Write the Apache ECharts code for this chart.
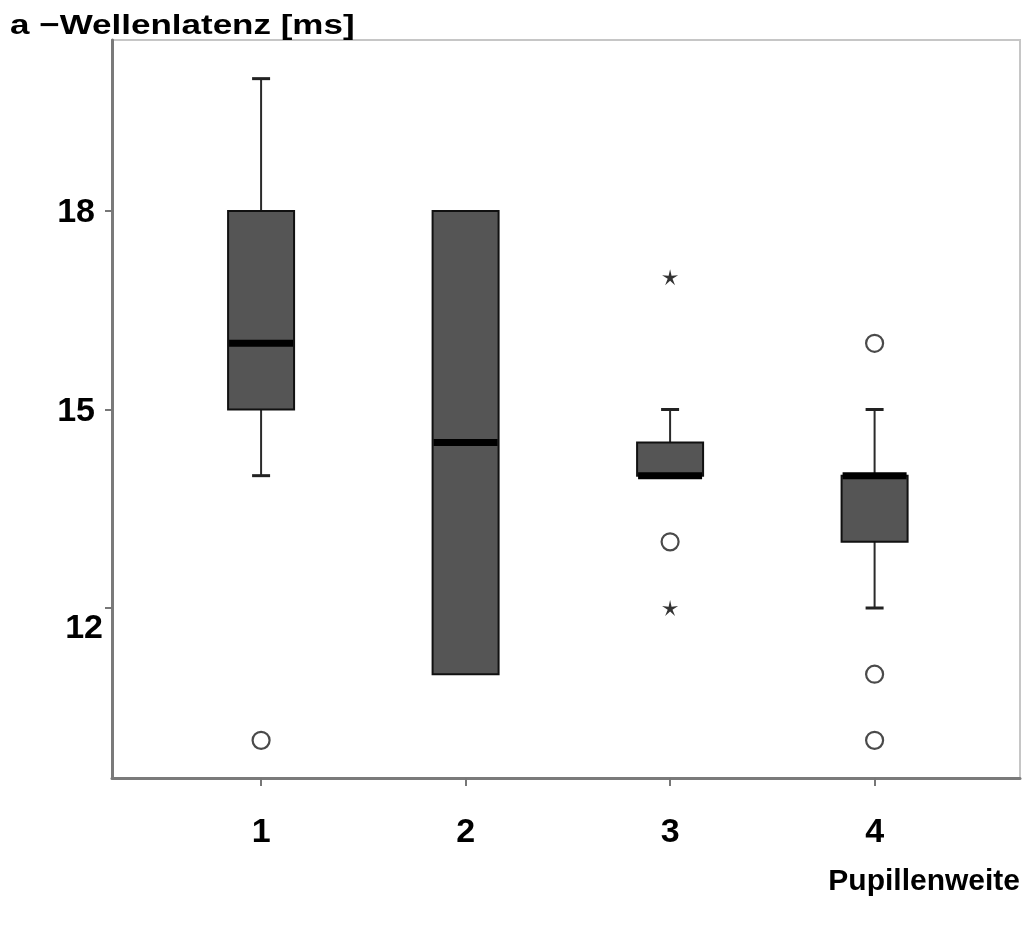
<!DOCTYPE html>
<html>
<head>
<meta charset="utf-8">
<script src="https://cdn.jsdelivr.net/npm/echarts@6/dist/echarts.min.js"></script>
<style>
  html, body { margin: 0; padding: 0; background: #fff; }
  #chart { width: 1030px; height: 925px; }
</style>
</head>
<body>
<div id="chart"></div>
<script>
// Pupil-width groups and the box statistics of the a-wave latency (ms)
const categories   = [1, 2, 3, 4];
const whiskerLow   = [14, 11, 14, 12];
const quartile1    = [15, 11, 14, 13];
const medians      = [16, 14.5, 14, 14];
const quartile3    = [18, 18, 14.5, 14];
const whiskerHigh  = [20, 18, 15, 15];

// Outliers (circles) and extreme values (stars): [group, latency]
const outlierPoints = [[1, 10], [3, 13], [4, 16], [4, 11], [4, 10]];
const extremePoints = [[3, 17], [3, 12]];

const yTicks = [12, 15, 18];

const boxRows = categories.map((c, i) =>
  [c, whiskerLow[i], quartile1[i], medians[i], quartile3[i], whiskerHigh[i]]);

const FONT = "'Liberation Sans', Arial, Helvetica, sans-serif";
const BOX_W = 66;
const CAP_W = 18;

// thin five-pointed star used for extreme values
function starPath() {
  let d = '';
  for (let k = 0; k < 10; k++) {
    const r = k % 2 === 0 ? 10 : 3;
    const a = -Math.PI / 2 + k * Math.PI / 5;
    const px = (10 + r * Math.cos(a)).toFixed(2);
    const py = (10 + r * Math.sin(a)).toFixed(2);
    d += (k === 0 ? 'M' : 'L') + px + ' ' + py + ' ';
  }
  return 'path://' + d + 'Z';
}

function renderBox(params, api) {
  const x = api.value(0);
  const pLow = api.coord([x, api.value(1)]);
  const pQ1 = api.coord([x, api.value(2)]);
  const pMed = api.coord([x, api.value(3)]);
  const pQ3 = api.coord([x, api.value(4)]);
  const pHigh = api.coord([x, api.value(5)]);
  const cx = pQ1[0];
  const half = BOX_W / 2;
  const cap = CAP_W / 2;
  const whisker = { stroke: '#2a2a2a', lineWidth: 2 };
  const children = [];
  if (pHigh[1] < pQ3[1]) {
    children.push({ type: 'line', shape: { x1: cx, y1: pQ3[1], x2: cx, y2: pHigh[1] }, style: whisker });
    children.push({ type: 'line', shape: { x1: cx - cap, y1: pHigh[1], x2: cx + cap, y2: pHigh[1] }, style: { stroke: '#222', lineWidth: 3 } });
  }
  if (pLow[1] > pQ1[1]) {
    children.push({ type: 'line', shape: { x1: cx, y1: pQ1[1], x2: cx, y2: pLow[1] }, style: whisker });
    children.push({ type: 'line', shape: { x1: cx - cap, y1: pLow[1], x2: cx + cap, y2: pLow[1] }, style: { stroke: '#222', lineWidth: 3 } });
  }
  children.push({
    type: 'rect',
    shape: { x: cx - half, y: pQ3[1], width: BOX_W, height: pQ1[1] - pQ3[1] },
    style: { fill: '#555555', stroke: '#111', lineWidth: 2 }
  });
  children.push({
    type: 'line',
    shape: { x1: cx - half + 1, y1: pMed[1], x2: cx + half - 1, y2: pMed[1] },
    style: { stroke: '#000', lineWidth: 7 }
  });
  return { type: 'group', children };
}

const chart = echarts.init(document.getElementById('chart'), null, { renderer: 'canvas' });

chart.setOption({
  backgroundColor: '#ffffff',
  animation: false,
  grid: {
    left: 112, right: 10, top: 40, bottom: 147,
    show: true, borderColor: '#c6c6c6', borderWidth: 2, backgroundColor: 'transparent'
  },
  xAxis: {
    type: 'value',
    min: 0.271, max: 4.711,
    splitLine: { show: false },
    axisLine: { show: true, onZero: false, lineStyle: { color: '#7a7a7a', width: 3 } },
    axisTick: { show: true, customValues: categories, length: 8, lineStyle: { color: '#777', width: 2 } },
    axisLabel: {
      customValues: categories, margin: 38,
      color: '#000', fontSize: 34, fontWeight: 'bold', fontFamily: FONT
    }
  },
  yAxis: {
    type: 'value',
    min: 9.431, max: 20.584,
    splitLine: { show: false },
    axisLine: { show: true, onZero: false, lineStyle: { color: '#7a7a7a', width: 3 } },
    axisTick: { show: true, customValues: yTicks, length: 7, lineStyle: { color: '#777', width: 2 } },
    axisLabel: {
      customValues: yTicks, margin: 9,
      formatter: v => (v === 12 ? '{low|' + v + '}' : '{std|' + v + '}'),
      rich: {
        std: { fontSize: 34, fontWeight: 'bold', fontFamily: FONT, color: '#000', padding: [4, 8, 0, 0] },
        low: { fontSize: 34, fontWeight: 'bold', fontFamily: FONT, color: '#000', padding: [42, 0, 0, 0] }
      }
    }
  },
  series: [
    {
      type: 'custom',
      name: 'boxes',
      renderItem: renderBox,
      encode: { x: 0, y: [1, 2, 3, 4, 5] },
      data: boxRows,
      z: 3
    },
    {
      type: 'scatter',
      name: 'outliers',
      data: outlierPoints,
      symbol: 'circle',
      symbolSize: 17,
      itemStyle: { color: '#ffffff', borderColor: '#4a4a4a', borderWidth: 2.2, opacity: 1 },
      z: 4
    },
    {
      type: 'scatter',
      name: 'extremes',
      data: extremePoints,
      symbol: starPath(),
      symbolSize: 16,
      itemStyle: { color: '#333333', opacity: 1 },
      z: 4
    }
  ],
  graphic: [
    {
      type: 'text',
      left: 10, top: 12,
      scaleX: 1.25,
      style: { text: 'a −Wellenlatenz [ms]', font: "bold 28px " + FONT, fill: '#000' }
    },
    {
      type: 'text',
      right: 10, top: 867,
      style: { text: 'Pupillenweite', font: "bold 30px " + FONT, fill: '#000' }
    }
  ]
});
</script>
</body>
</html>
